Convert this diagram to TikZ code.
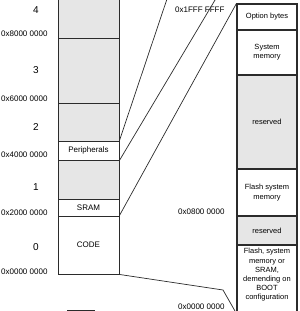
\documentclass[tikz,border=0pt]{standalone}
\usepackage{fontspec}
\setmainfont{Liberation Sans}
\usetikzlibrary{positioning}
\definecolor{memgray}{HTML}{E6E6E6}
\definecolor{memline}{HTML}{2B2B2B}

\begin{document}
\begin{tikzpicture}[x=1pt, y=-1pt,
  seg/.style={draw=memline, line width=0.9pt, inner sep=0pt, minimum width=61pt,
    font=\fontsize{8}{9.2}\selectfont, align=center},
  segr/.style={seg, minimum width=60pt, line width=1.1pt, font=\fontsize{7.5}{9.2}\selectfont},
  addr/.style={font=\fontsize{8}{9}\selectfont, anchor=east},
  regno/.style={font=\fontsize{10}{12}\selectfont},
  link/.style={draw=memline, line width=0.7pt}]
\useasboundingbox (0,0) rectangle (300,311);
\clip (0,0) rectangle (300,311);
% 4 GB map, one box per region
\foreach \n/\ya/\yb/\c/\t in {r4/-20/38.5/memgray/, r3/38.5/103/memgray/, r2/103/141/memgray/,
    periph/141/160/white/Peripherals, r1/160/199/memgray/, sram/199/216/white/SRAM, code/216/274/white/CODE}
  \node[seg, fill=\c, minimum height={\yb-\ya}] (\n) at (88.5,{(\ya+\yb)/2}) {\t};
\foreach \y/\l in {10/4, 70/3, 127/2, 187/1, 247/0}
  \node[regno] (no\l) at (36,\y) {\l};
\foreach \y/\a in {34/8, 99/6, 155/4, 213/2, 272/0}
  \node[addr] (la\a) at (51,\y) {0x\a000 0000};
% CODE area in detail
\foreach \n/\ya/\yb/\c/\t in {opt/4/30/white/Option bytes, sysmem/30/75/white/System\\memory,
    res1/75/169/memgray/reserved, flsys/169/216/white/Flash system\\memory,
    res2/216/245/memgray/reserved, boot/245/313/white/}
  \node[segr, fill=\c, minimum height={\yb-\ya}] (\n) at (267,{(\ya+\yb)/2}) {\t};
\node[font=\fontsize{7.5}{9.2}\selectfont, align=center] (boottxt) at (267,275)
  {Flash, system\\memory or\\SRAM,\\demending on\\BOOT\\configuration};
\node[addr] (ra1) at (228,10) {0x1FFF FFFF};
\node[addr] (ra2) at (228,212) {0x0800 0000};
\node[addr] (ra3) at (228,307) {0x0000 0000};
\coordinate (pa) at (170,-10);
\coordinate (pb) at (221,-10);
\coordinate (bend) at (223,290);
\draw[link] (periph.north east) -- (pa);
\draw[link] (periph.south east) -- (pb);
\draw[link] (code.north east) -- (opt.north west);
\draw[link] (code.south east) -- (bend) -- (boot.south west);
\draw[memline, line width=0.9pt] (67,310) -- (95,310);
\end{tikzpicture}
\end{document}
